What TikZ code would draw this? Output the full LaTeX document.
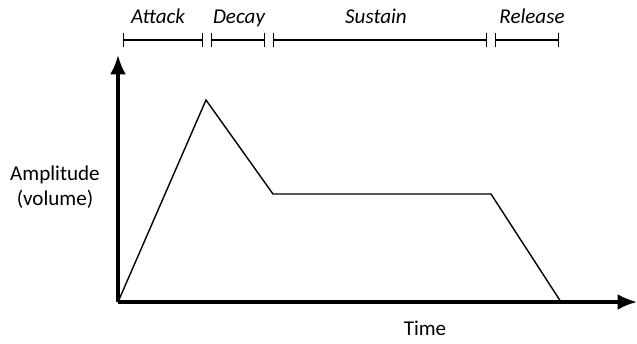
\documentclass[tikz,border=0pt]{standalone}
\usepackage{fontspec}
\setmainfont{Carlito}
\usetikzlibrary{arrows.meta}
\begin{document}
\begin{tikzpicture}[x=0.02cm,y=-0.02cm,
  axis/.style={line width=1.8pt,-{Latex[length=11pt,width=9pt]}},
  phase/.style={line width=0.8pt,{Bar[width=8pt]}-{Bar[width=8pt]}},
  phaselabel/.style={font=\itshape\fontsize{12}{14}\selectfont,anchor=base},
  axislabel/.style={font=\fontsize{12}{14}\selectfont,align=center}]
 \useasboundingbox (0,0) rectangle (637,344);
 % axes
 \coordinate (origin) at (118,302);
 \coordinate (ytop) at (118,55);
 \coordinate (xend) at (637,302);
 \draw[axis] (origin) -- (ytop);
 \draw[axis] (origin) -- (xend);
 \node[axislabel] (amp) at (55,187) {Amplitude\\(volume)};
 \node[axislabel] (time) at (425,328) {Time};
 % envelope
 \coordinate (peak) at (206,100);
 \coordinate (decayend) at (273,194);
 \coordinate (sustainend) at (491,194);
 \coordinate (releaseend) at (561,302);
 \draw[line width=0.8pt,line join=miter] (origin) -- (peak) -- (decayend) -- (sustainend) -- (releaseend);
 % phases
 \foreach \a/\b/\c/\t in {123/203/158/Attack,211/265/239/Decay,273/487/376/Sustain,495/559/532/Release}{
   \coordinate (\t-l) at (\a,40);
   \coordinate (\t-r) at (\b,40);
   \draw[phase] (\t-l) -- (\t-r);
   \node[phaselabel] (\t-label) at (\c,24) {\t};
 }
\end{tikzpicture}
\end{document}
